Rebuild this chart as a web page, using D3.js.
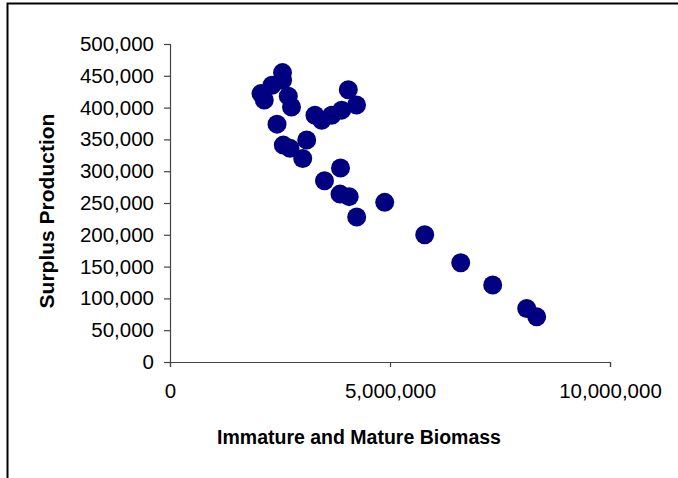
<!DOCTYPE html>
<html>
<head>
<meta charset="utf-8">
<script src="https://cdn.jsdelivr.net/npm/d3@7"></script>
<style>
  html, body { margin: 0; padding: 0; background: #fff; }
  svg { display: block; }
  text { font-family: "Liberation Sans", Arial, sans-serif; fill: #000; }
</style>
</head>
<body>
<svg id="chart" width="678" height="478"></svg>
<script>
// Immature and Mature Biomass (x) vs Surplus Production (y)
const biomass = [
  2557000, 2557000, 2318000, 2068000, 2143000, 2689000, 2761000, 2432000,
  4052000, 4239000, 3295000, 3448000, 3675000, 3902000,
  2575000, 2727000, 3107000, 3016000, 3875000, 3511000, 3864000, 4073000,
  4880000, 4243000, 5789000, 6607000, 7334000, 8107000, 8334000
];
const surplus = [
  455000, 443000, 435000, 422000, 412000, 418000, 401000, 374000,
  428000, 404000, 388000, 380000, 388000, 396000,
  341000, 336000, 349000, 320000, 305000, 285000, 264000, 260000,
  251000, 228000, 200000, 156000, 121000, 84000, 71000
];
const xTicks = [0, 5000000, 10000000];
const yTicks = [0, 50000, 100000, 150000, 200000, 250000, 300000, 350000, 400000, 450000, 500000];
const xTitle = "Immature and Mature Biomass";
const yTitle = "Surplus Production";

const svg = d3.select("#chart");
const fmt = d3.format(",");

// outer frame (extends past the right and bottom edges)
svg.append("rect")
  .attr("x", 7.5).attr("y", 3.5)
  .attr("width", 700).attr("height", 500)
  .attr("fill", "none").attr("stroke", "#000").attr("stroke-width", 2);

const x = d3.scaleLinear().domain([0, 10000000]).range([170, 610]);
const y = d3.scaleLinear().domain([0, 500000]).range([362, 44]);

// y axis
const gy = svg.append("g").attr("transform", "translate(170,0)")
  .call(d3.axisLeft(y).tickValues(yTicks).tickFormat(fmt).tickSize(6).tickPadding(10));
gy.selectAll("text").attr("font-size", 20.5).attr("font-family", "Liberation Sans, Arial, sans-serif").attr("fill", "#000");

// x axis
const gx = svg.append("g").attr("transform", "translate(0,362)")
  .call(d3.axisBottom(x).tickValues(xTicks).tickFormat(fmt).tickSize(5).tickPadding(16));
gx.selectAll("text").attr("font-size", 20.5).attr("font-family", "Liberation Sans, Arial, sans-serif").attr("fill", "#000");

[gx, gy].forEach(g => {
  g.select(".domain").attr("stroke", "#444").attr("stroke-width", 1.2);
  g.selectAll(".tick line").attr("stroke", "#444").attr("stroke-width", 1.2);
});

// points
svg.append("g").selectAll("circle")
  .data(biomass.map((b, i) => [b, surplus[i]]))
  .join("circle")
  .attr("cx", d => x(d[0]))
  .attr("cy", d => y(d[1]))
  .attr("r", 9.5)
  .attr("fill", "#000080");

// titles
svg.append("text")
  .attr("x", 359).attr("y", 444)
  .attr("text-anchor", "middle")
  .attr("font-size", 19.5).attr("font-weight", "bold")
  .attr("letter-spacing", 0)
  .text(xTitle);

svg.append("text")
  .attr("transform", "translate(54,211) rotate(-90)")
  .attr("text-anchor", "middle")
  .attr("font-size", 21).attr("font-weight", "bold")
  .text(yTitle);
</script>
</body>
</html>
